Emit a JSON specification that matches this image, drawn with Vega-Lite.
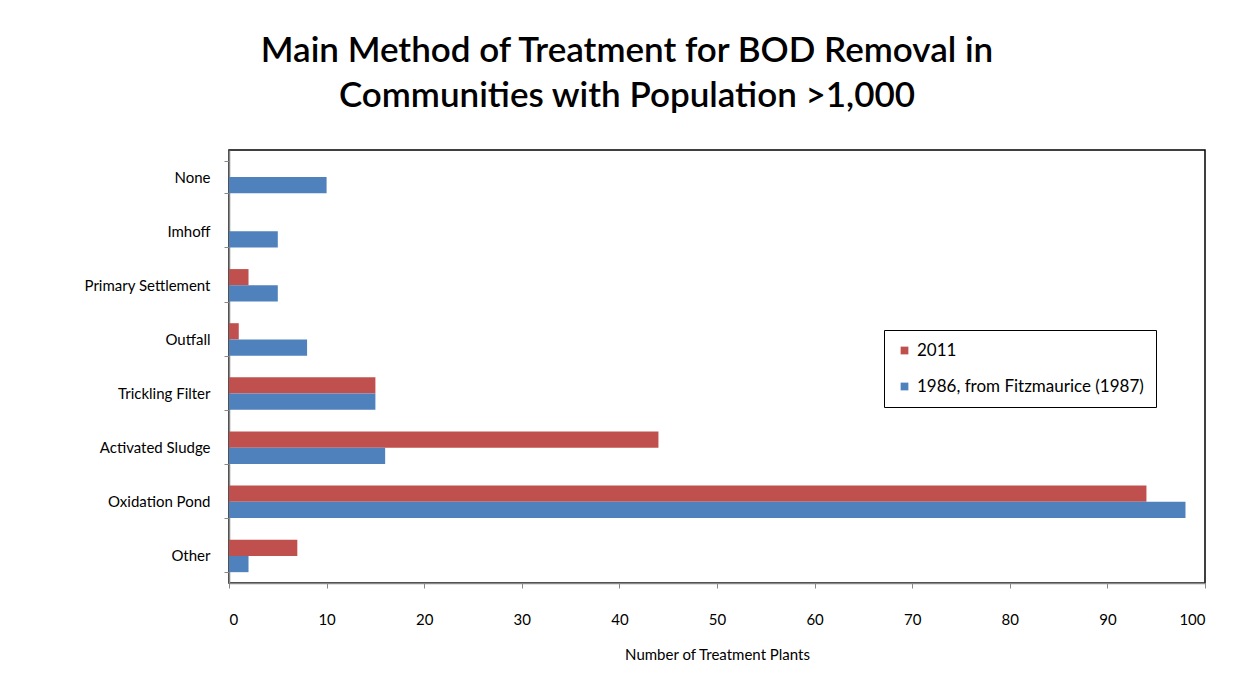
{
  "$schema": "https://vega.github.io/schema/vega-lite/v6.json",
  "autosize": {"type": "none"},
  "width": 976,
  "height": 433,
  "padding": {"left": 229, "top": 150, "right": 43, "bottom": 115},
  "background": "white",
  "title": {
    "text": ["Main Method of Treatment for BOD Removal in", "Communities with Population >1,000"],
    "font": "Lato",
    "fontSize": 35,
    "fontWeight": 600,
    "color": "#000",
    "lineHeight": 45,
    "anchor": "middle",
    "frame": "group",
    "dx": -90,
    "offset": 29
  },
  "data": {
    "values": [
      {"method": "None", "series": "2011", "plants": 0},
      {"method": "None", "series": "1986, from Fitzmaurice (1987)", "plants": 10},
      {"method": "Imhoff", "series": "2011", "plants": 0},
      {"method": "Imhoff", "series": "1986, from Fitzmaurice (1987)", "plants": 5},
      {"method": "Primary Settlement", "series": "2011", "plants": 2},
      {"method": "Primary Settlement", "series": "1986, from Fitzmaurice (1987)", "plants": 5},
      {"method": "Outfall", "series": "2011", "plants": 1},
      {"method": "Outfall", "series": "1986, from Fitzmaurice (1987)", "plants": 8},
      {"method": "Trickling Filter", "series": "2011", "plants": 15},
      {"method": "Trickling Filter", "series": "1986, from Fitzmaurice (1987)", "plants": 15},
      {"method": "Activated Sludge", "series": "2011", "plants": 44},
      {"method": "Activated Sludge", "series": "1986, from Fitzmaurice (1987)", "plants": 16},
      {"method": "Oxidation Pond", "series": "2011", "plants": 94},
      {"method": "Oxidation Pond", "series": "1986, from Fitzmaurice (1987)", "plants": 98},
      {"method": "Other", "series": "2011", "plants": 7},
      {"method": "Other", "series": "1986, from Fitzmaurice (1987)", "plants": 2}
    ]
  },
  "mark": {"type": "bar"},
  "encoding": {
    "y": {
      "field": "method",
      "type": "nominal",
      "sort": ["None", "Imhoff", "Primary Settlement", "Outfall", "Trickling Filter", "Activated Sludge", "Oxidation Pond", "Other"],
      "scale": {"paddingInner": 0.4, "paddingOuter": 0.2},
      "axis": {
        "title": null,
        "labelFont": "Lato",
        "labelFontSize": 15,
        "labelColor": "#000",
        "labelPadding": 14,
        "domainColor": "#888",
        "tickColor": "#888",
        "tickBand": "extent",
        "tickSize": 5
      }
    },
    "yOffset": {
      "field": "series",
      "type": "nominal",
      "sort": ["2011", "1986, from Fitzmaurice (1987)"]
    },
    "x": {
      "field": "plants",
      "type": "quantitative",
      "scale": {"domain": [0, 100], "nice": false},
      "axis": {
        "title": "Number of Treatment Plants",
        "values": [0, 10, 20, 30, 40, 50, 60, 70, 80, 90, 100],
        "grid": false,
        "labelFont": "Lato",
        "labelFontSize": 15,
        "labelColor": "#000",
        "labelPadding": 24,
        "titleFont": "Lato",
        "titleFontSize": 15,
        "titleFontWeight": "normal",
        "titleColor": "#000",
        "titlePadding": 20,
        "domainColor": "#888",
        "tickColor": "#888",
        "tickSize": 5
      }
    },
    "color": {
      "field": "series",
      "type": "nominal",
      "sort": ["2011", "1986, from Fitzmaurice (1987)"],
      "scale": {"domain": ["2011", "1986, from Fitzmaurice (1987)"], "range": ["#C0504D", "#4F81BD"]},
      "legend": {
        "title": null,
        "orient": "none",
        "legendX": 655,
        "legendY": 180,
        "symbolType": "square",
        "symbolSize": 60,
        "labelFont": "Lato",
        "labelFontSize": 17,
        "labelLimit": 500,
        "labelColor": "#000",
        "rowPadding": 18,
        "padding": 12,
        "strokeColor": "#000",
        "fillColor": "white"
      }
    }
  },
  "config": {
    "view": {"stroke": "#000", "strokeWidth": 1.5},
    "axis": {"domainWidth": 1.5}
  }
}
